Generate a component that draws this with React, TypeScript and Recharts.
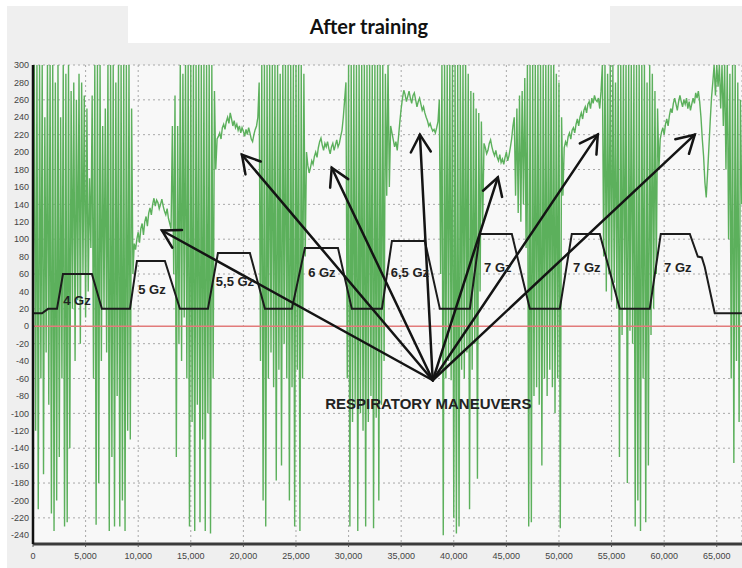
import React from "react";
import {
  LineChart,
  Line,
  XAxis,
  YAxis,
  CartesianGrid,
  ReferenceLine,
  ReferenceDot,
} from "recharts";

// pressure trace, one sample every 125 ms, written segment by segment
const SAMPLE_STEP = 125;

const burst1 = [
  15, 300, -120, 300, -210, 300, -60, 300, -170, 240,
  -30, 300, -90, 300, -215, 300, -235, 280, -200, 300,
  -150, 240, -60, 300, -230, 290, -225, 300, -140, 270,
  20, 280, -40, 260, 30, 290, -20, 280, 60, 265,
  10, 250, 40, 170, 90, 265, -60, 300, -228, 300,
  -180, 300, -40, 230, 20, 250, -30, 300, -235, 300,
  -150, 300, -230, 280, -80, 300, -230, 300, -200, 300,
  -235, 300, -120, 300, -130, 250, 60,
];
const plateau1 = [
  95, 88, 100, 108, 96, 112, 118, 105, 120, 126,
  115, 130, 136, 128, 140, 147, 138, 145, 142, 135,
  140, 146, 138, 132, 128, 135, 124, 118, 112,
];
const burst2 = [
  230, 60, 265, -150, 230, -20, 300, -40, 290, 10,
  300, -60, 300, -230, 300, -110, 300, -235, 300, -90,
  300, -225, 300, -130, 300, -235, 300, -100, 300, -238,
  300, -60, 270, 180, 215,
];
const plateau2 = [
  218, 222, 215, 228, 232, 226, 235, 240, 233, 245,
  238, 230, 236, 228, 232, 225, 230, 222, 228, 224,
  218, 226, 220, 228, 222, 215, 212, 220, 226, 230,
  240,
];
const burst3 = [
  280, -40, 300, -200, 300, -230, 300, -60, 300, -30,
  300, -70, 300, -177, 300, -50, 290, -160, 300, -20,
  300, -60, 300, -200, 300, -70, 300, -230, 300, -50,
  300, -235, 300, -60, 290, 80, 200,
];
const plateau3 = [
  185, 176, 182, 190, 186, 195, 200, 194, 205, 212,
  216, 208, 202, 210, 206, 212, 204, 198, 206, 210,
  202, 208, 214, 206, 210, 218, 225, 240, 260,
];
const burst4 = [
  280, -60, 300, -230, 300, -110, 300, -90, 300, -235,
  300, -100, 300, -120, 300, -230, 300, -110, 300, -80,
  300, -232, 300, -105, 300, -200, 300, -90, 300, -40,
  290, 150, 300, 160, 230,
];
const plateau4 = [
  222, 214, 206, 212, 202, 218, 235, 250, 262, 271,
  266, 258, 264, 270, 262, 256, 265, 268, 260, 252,
  258, 262, 255, 248, 252, 245, 240, 236, 230, 233,
  228, 224, 226, 222, 228, 235,
];
const burst5 = [
  260, 60, 300, -240, 300, -60, 300, -40, 300, -62,
  300, -220, 300, -238, 300, -230, 300, -50, 300, -60,
  300, -30, 290, -210, 270, -50, 268, -20, 250, -175,
  245, 40, 235, 120, 210,
];
const plateau5 = [
  205, 198, 202, 210, 214, 206, 200, 196, 202, 194,
  190, 197, 188, 192, 186, 194, 200, 190, 196, 205,
  215, 230,
];
const burst6 = [
  240, 150, 250, 130, 265, 120, 270, 140, 285, 90,
  300, -230, 300, -225, 300, -80, 300, -70, 300, -90,
  300, -160, 300, -60, 300, -80, 300, -50, 300, -70,
  300, -100, 290, -60, 280, -232, 240, 150,
];
const plateau6 = [
  205, 212, 208, 218, 222, 215, 225, 228, 222, 232,
  238, 230, 240, 245, 238, 248, 252, 245, 255, 258,
  250, 262, 256, 265, 260, 258, 262, 250, 270,
];
const burst7 = [
  300, 80, 300, 40, 290, 60, 300, 30, 300, 50,
  280, 20, 300, -150, 300, -10, 300, 20, 300, -180,
  300, -5, 300, -20, 300, -230, 300, -200, 300, -235,
  300, -60, 300, -225, 280, -160, 300, -10, 290, 20,
  270, 60, 250, 180,
];
const plateau7 = [
  215, 223, 228, 220, 232, 238, 230, 242, 250, 245,
  256, 262, 255, 248, 258, 265, 258, 252, 260, 255,
  262, 250, 258, 248, 255, 262, 256, 268, 262, 270,
  258, 240, 215,
];
const tail = [
  195, 165, 148, 175, 205, 235, 262, 280, 300, 265,
  300, 275, 300, 250, 300, 230, 300, 180, 300, 100,
  290, -60, 300, -157, 300, -40, 280, -110, 260, 140,
];

// segment start times (ms)
const segments: [number, number[]][] = [
  [0, burst1],
  [9625, plateau1],
  [13250, burst2],
  [17625, plateau2],
  [21500, burst3],
  [26125, plateau3],
  [29750, burst4],
  [34125, plateau4],
  [38625, burst5],
  [43000, plateau5],
  [45750, burst6],
  [50500, plateau6],
  [54125, burst7],
  [59625, plateau7],
  [63750, tail],
];

// G-load profile (scaled), drawn in black
const gzTime = [
  0, 860, 1430, 2280, 2850, 5600, 6550, 9220, 9880, 12540, 13970, 16630,
  17580, 20620, 22050, 24610, 25850, 28990, 30310, 33170, 34120, 37250,
  38680, 41530, 42480, 45520, 47230, 50080, 51220, 53880, 55780, 58630,
  59680, 62440, 63200, 63580, 63860, 64810, 67400,
];
const gzValue = [
  15, 15, 20, 20, 60, 60, 20, 20, 75, 75, 20, 20,
  84, 84, 20, 20, 90, 90, 20, 20, 98, 98,
  20, 20, 106, 106, 20, 20, 106, 106, 20, 20,
  106, 106, 80, 79, 68, 15, 15,
];

const gzLabels = ["4 Gz", "5 Gz", "5,5 Gz", "6 Gz", "6,5 Gz", "7 Gz", "7 Gz", "7 Gz"];
const gzLabelAt: [number, number][] = [
  [4180, 30], [11310, 42], [19200, 51], [27460, 62],
  [35830, 62], [44190, 68], [52650, 68], [61300, 68],
];

const arrowFrom: [number, number] = [38000, -62];
const arrowTo: [number, number][] = [
  [12260, 110], [19860, 197], [28400, 182], [36780, 220],
  [44190, 171], [53690, 220], [62910, 220],
];

const xTicks = [0, 5000, 10000, 15000, 20000, 25000, 30000, 35000, 40000, 45000, 50000, 55000, 60000, 65000];
const yTicks = [
  -240, -220, -200, -180, -160, -140, -120, -100, -80, -60, -40, -20, 0,
  20, 40, 60, 80, 100, 120, 140, 160, 180, 200, 220, 240, 260, 280, 300,
];

const pressure = segments.flatMap(([start, values]) =>
  values.map((v, i) => ({ t: start + i * SAMPLE_STEP, v }))
);
const gz = gzTime.map((t, i) => ({ t, v: gzValue[i] }));

const FONT = "'Liberation Sans', Arial, sans-serif";

function Arrow(props: any) {
  const { x1, y1, x2, y2 } = props;
  const back = Math.atan2(y1 - y2, x1 - x2);
  const len = 20;
  const spread = Math.PI / 6;
  const ax = x2 + len * Math.cos(back + spread);
  const ay = y2 + len * Math.sin(back + spread);
  const bx = x2 + len * Math.cos(back - spread);
  const by = y2 + len * Math.sin(back - spread);
  return (
    <g stroke="#141414" strokeWidth={2.5} fill="none" strokeLinecap="round">
      <line x1={x1} y1={y1} x2={x2} y2={y2} />
      <polyline points={`${ax},${ay} ${x2},${y2} ${bx},${by}`} strokeLinejoin="miter" />
    </g>
  );
}

export default function App() {
  return (
    <div style={{ position: "absolute", left: 0, top: 0, width: 742, height: 568, background: "#fff", overflow: "hidden" }}>
      <div style={{ position: "absolute", left: 7, top: 6, width: 735, height: 562, background: "#efefef" }} />
      <div
        style={{
          position: "absolute",
          left: 128,
          top: 0,
          width: 482,
          height: 43,
          background: "#fff",
          textAlign: "center",
          fontFamily: "Lato, 'Open Sans', sans-serif",
          fontWeight: 700,
          fontSize: 20,
          lineHeight: "52px",
          color: "#111",
        }}
      >
        After training
      </div>
      <div style={{ position: "absolute", left: 0, top: 0 }}>
        <LineChart width={742} height={568} margin={{ top: 65, right: 0, bottom: 0, left: 0 }}>
          <CartesianGrid stroke="#a8a8a8" strokeDasharray="2 3" fill="#f8f8f8" />
          <XAxis
            dataKey="t"
            type="number"
            domain={[0, 67400]}
            ticks={xTicks}
            allowDataOverflow
            height={24}
            tickFormatter={(v: number) => v.toLocaleString("en-US")}
            tick={{ fontSize: 9, fill: "#444", fontFamily: FONT }}
            tickSize={3}
            tickMargin={6}
            tickLine={{ stroke: "#555" }}
            axisLine={{ stroke: "#3a3a3a", strokeWidth: 3 }}
          />
          <YAxis
            type="number"
            domain={[-250, 300]}
            ticks={yTicks}
            allowDataOverflow
            width={33}
            tick={{ fontSize: 9, fill: "#444", fontFamily: FONT }}
            tickLine={false}
            tickSize={3}
            tickMargin={1}
            axisLine={{ stroke: "#111", strokeWidth: 2.5 }}
          />
          <Line
            data={pressure}
            dataKey="v"
            type="linear"
            stroke="#5cb05c"
            strokeWidth={1.4}
            dot={false}
            isAnimationActive={false}
          />
          <ReferenceLine y={0} stroke="#e27b7b" strokeWidth={1.5} />
          <Line
            data={gz}
            dataKey="v"
            type="linear"
            stroke="#1c1c1c"
            strokeWidth={2}
            dot={false}
            isAnimationActive={false}
          />
          {arrowTo.map(([x, y], i) => (
            <ReferenceLine
              key={`arrow-${i}`}
              segment={[
                { x: arrowFrom[0], y: arrowFrom[1] },
                { x, y },
              ]}
              shape={(p: any) => <Arrow {...p} />}
            />
          ))}
          {gzLabels.map((text, i) => (
            <ReferenceDot
              key={`gz-${i}`}
              x={gzLabelAt[i][0]}
              y={gzLabelAt[i][1]}
              r={0}
              fill="none"
              stroke="none"
              label={{ value: text, position: "center", fill: "#222", fontSize: 13, fontWeight: 700, fontFamily: FONT }}
            />
          ))}
          <ReferenceDot
            x={37580}
            y={-89}
            r={0}
            fill="none"
            stroke="none"
            label={{
              value: "RESPIRATORY MANEUVERS",
              position: "center",
              fill: "#222",
              fontSize: 15,
              fontWeight: 700,
              fontFamily: FONT,
            }}
          />
        </LineChart>
      </div>
    </div>
  );
}
